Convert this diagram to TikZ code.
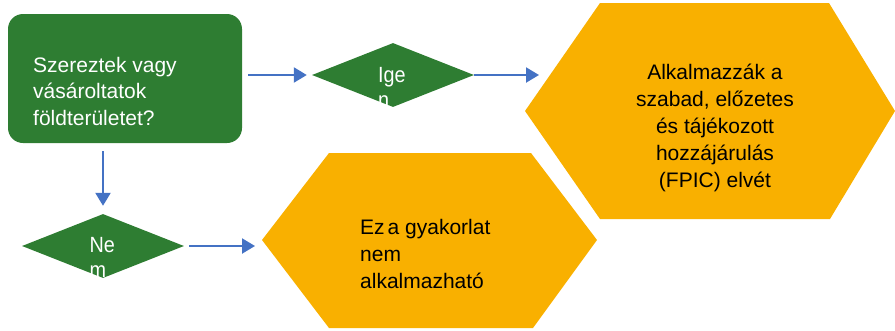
\documentclass[tikz,border=0pt]{standalone}
\usepackage{fontspec}
\setmainfont{Liberation Sans}
\newfontfamily\narrowsans[FakeStretch=0.9]{Liberation Sans}
\usetikzlibrary{shapes.geometric,arrows.meta}
\definecolor{boxgreen}{RGB}{46,125,50}
\definecolor{hexorange}{RGB}{249,176,0}
\definecolor{arrblue}{RGB}{68,114,196}
\begin{document}
\begin{tikzpicture}[x=1pt,y=-1pt,
  qbox/.style={fill=boxgreen,rounded corners=15pt,minimum width=234pt,minimum height=129pt,inner sep=0pt},
  dec/.style={diamond,fill=boxgreen,minimum width=162pt,minimum height=64pt,inner sep=0pt,aspect=2.5},
  hexfill/.style={fill=hexorange},
  wtext/.style={text=white,font=\fontsize{21}{26.5}\selectfont,align=left,inner sep=0pt},
  dtext/.style={text=white,font=\narrowsans\fontsize{22}{25}\selectfont,align=left,inner sep=0pt,anchor=north west},
  btext/.style={text=black,font=\fontsize{21}{27}\selectfont,inner sep=0pt},
  arr/.style={draw=arrblue,line width=2.2pt,-{Triangle[length=13pt,width=15pt]}}]
\useasboundingbox (0,0) rectangle (895,330);
% shapes
\node[qbox] (q) at (125,78.5) {};
\node[dec] (d1) at (393,75) {};
\node[dec] (d2) at (103,246) {};
\fill[hexfill] (525,111) -- (600,3) -- (829,3) -- (895,111) -- (830,219) -- (600,219) -- cycle;
\fill[hexfill] (262,240) -- (329,153) -- (531,153) -- (597,240) -- (533,328) -- (329,328) -- cycle;
\coordinate (h1) at (551,75);
\coordinate (h2) at (262,246);
% texts
\node[wtext,anchor=west] (qt) at (33,91) {Szereztek vagy\\vásároltatok\\földterületet?};
\node[dtext] (d1t) at (378,67) {Ige\\n};
\node[dtext] (d2t) at (89.5,237) {Ne\\m};
\node[btext,align=center] (h1t) at (715,128) {Alkalmazzák a\\szabad, előzetes\\és tájékozott\\hozzájárulás\\(FPIC) elvét};
\node[btext,align=left,anchor=west] (h2t) at (360,254) {Ez\hspace{3pt}a gyakorlat\\nem\\alkalmazható};
% connectors
\draw[arr,shorten <=6pt,shorten >=5pt] (q.east |- d1.west) -- (d1.west);
\draw[arr,shorten >=12pt] (d1.east) -- (h1);
\draw[arr,shorten <=8pt,shorten >=8pt] (q.south -| d2.north) -- (d2.north);
\draw[arr,shorten <=5pt,shorten >=7pt] (d2.east) -- (h2);
\end{tikzpicture}
\end{document}
